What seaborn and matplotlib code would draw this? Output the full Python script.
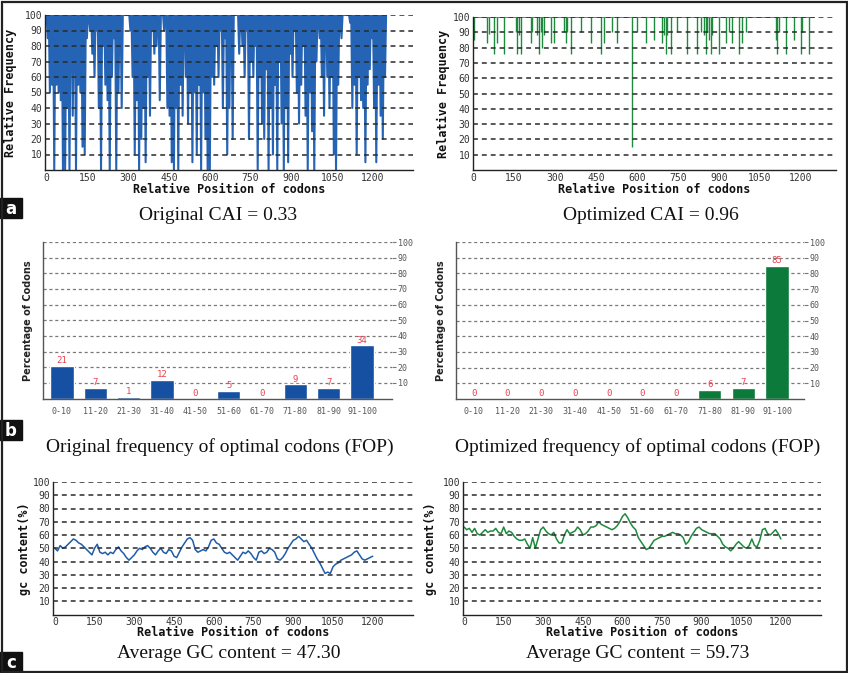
import numpy as np
import pandas as pd
import matplotlib
matplotlib.use("Agg")
import matplotlib.pyplot as plt
from matplotlib.patches import Rectangle
import seaborn as sns

# ---------------- data ----------------
# relative adaptiveness of original gene, one value every 4 codons (codon 0..1248)
orig_cai = [
    100, 85, 100, 50, 100, 55, 100, 0, 100, 55,
    100, 50, 100, 45, 100, 0, 100, 0, 100, 40,
    100, 0, 100, 100, 35, 100, 100, 0, 100, 55,
    100, 50, 100, 15, 100, 10, 100, 85, 100, 100,
    90, 100, 75, 100, 60, 100, 90, 100, 40, 100,
    0, 100, 80, 100, 55, 100, 45, 100, 0, 100,
    60, 100, 85, 100, 0, 100, 50, 100, 100, 40,
    100, 100, 100, 100, 100, 100, 100, 90, 100, 60,
    100, 10, 100, 45, 100, 0, 100, 20, 100, 40,
    100, 5, 100, 60, 100, 35, 100, 90, 100, 75,
    100, 80, 100, 100, 45, 100, 100, 100, 90, 100,
    100, 40, 100, 35, 100, 5, 100, 0, 100, 40,
    100, 0, 100, 55, 100, 35, 100, 100, 60, 100,
    30, 100, 50, 100, 5, 100, 50, 100, 10, 100,
    55, 100, 0, 100, 50, 100, 20, 100, 0, 100,
    0, 100, 60, 100, 55, 100, 80, 100, 60, 100,
    90, 100, 40, 100, 85, 100, 10, 100, 40, 100,
    100, 20, 100, 100, 100, 100, 100, 75, 100, 100,
    80, 100, 60, 100, 90, 100, 20, 100, 70, 100,
    60, 100, 80, 100, 0, 100, 60, 100, 30, 100,
    20, 100, 65, 100, 0, 100, 40, 100, 10, 100,
    55, 100, 0, 100, 70, 100, 30, 100, 0, 100,
    40, 100, 5, 100, 75, 100, 60, 100, 90, 100,
    50, 100, 30, 100, 55, 100, 80, 100, 35, 100,
    0, 100, 50, 100, 25, 100, 0, 100, 70, 100,
    100, 85, 100, 60, 100, 35, 100, 100, 60, 100,
    40, 100, 60, 100, 10, 100, 0, 100, 55, 100,
    100, 85, 100, 100, 100, 100, 100, 100, 100, 95,
    100, 40, 100, 55, 100, 10, 100, 60, 100, 45,
    100, 40, 100, 5, 100, 55, 100, 65, 100, 85,
    100, 40, 100, 5, 100, 55, 100, 35, 100, 20,
    100, 60, 100,
]
orig_pos = np.arange(len(orig_cai)) * 4

# optimized gene: values are 100 except at these codons
opt_len = 1250
opt_dip_pos = [4, 52, 59, 77, 89, 113, 156, 162, 168, 174, 211, 217, 235, 241, 248,
               254, 260, 284, 296, 333, 339, 345, 357, 394, 430, 467, 479, 510, 528,
               583, 601, 632, 662, 693, 699, 705, 711, 723, 748, 784, 821, 833, 845,
               851, 857, 863, 870, 876, 900, 924, 937, 949, 973, 985, 998, 1107, 1113,
               1119, 1144, 1174, 1199, 1205, 1229]
opt_dip_val = [85, 83, 89, 76, 83, 76, 90, 76, 88, 76, 83, 90, 88, 76, 90,
               80, 88, 83, 83, 90, 83, 90, 76, 90, 83, 76, 83, 90, 83,
               15, 90, 83, 85, 83, 88, 76, 88, 76, 90, 76, 76, 90, 88,
               76, 90, 85, 76, 88, 76, 83, 90, 83, 76, 83, 90, 85, 76,
               90, 76, 85, 76, 90, 76]

fop_bins = ["0-10", "11-20", "21-30", "31-40", "41-50",
            "51-60", "61-70", "71-80", "81-90", "91-100"]
fop_orig = [21, 7, 1, 12, 0, 5, 0, 9, 7, 34]
fop_opt = [0, 0, 0, 0, 0, 0, 0, 6, 7, 85]

# GC content along the sequence, one value every 10 codons (0..1200)
gc_orig = [
    50, 48, 52, 50, 51, 53, 55, 57, 56, 54,
    53, 51, 49, 47, 45, 50, 53, 47, 46, 47,
    45, 47, 46, 49, 51, 48, 46, 43, 41, 43,
    45, 48, 50, 49, 51, 52, 50, 47, 45, 48,
    50, 47, 46, 49, 48, 44, 43, 47, 51, 54,
    57, 58, 56, 49, 47, 48, 49, 48, 51, 56,
    57, 54, 53, 50, 47, 46, 47, 45, 43, 41,
    44, 47, 46, 48, 46, 43, 41, 47, 48, 46,
    47, 50, 49, 47, 42, 41, 43, 46, 50, 53,
    56, 57, 59, 57, 55, 56, 53, 50, 46, 42,
    39, 35, 31, 32, 31, 36, 38, 39, 41, 42,
    43, 44, 45, 47, 48, 45, 42, 41, 42, 43,
    44,
]
gc_opt = [
    66, 64, 65, 62, 65, 61, 60, 62, 64, 62,
    63, 63, 65, 62, 61, 66, 61, 63, 62, 59,
    57, 56, 56, 57, 53, 50, 58, 50, 57, 64,
    66, 63, 61, 60, 62, 57, 54, 54, 60, 64,
    61, 62, 63, 66, 64, 60, 61, 63, 66, 66,
    67, 70, 68, 67, 66, 65, 64, 65, 67, 70,
    74, 76, 73, 69, 66, 64, 58, 55, 52, 49,
    50, 53, 56, 57, 58, 59, 59, 60, 61, 62,
    61, 61, 60, 58, 53, 55, 59, 62, 65, 66,
    64, 63, 62, 61, 61, 61, 59, 57, 53, 51,
    50, 48, 50, 53, 55, 53, 51, 50, 52, 57,
    52, 51, 56, 64, 65, 61, 60, 62, 64, 61,
    57,
]
gc_pos = np.arange(len(gc_orig)) * 10

BLUE = "#1f5cab"
CAI_BLUE = "#2563b4"
GREEN = "#1e8a3c"
BAR_BLUE = "#1650a2"
BAR_GREEN = "#0c7a3a"

sns.set_style("white")
plt.rcParams["font.family"] = ["DejaVu Sans"]

W, H = 848, 673
fig = plt.figure(figsize=(W / 100, H / 100), dpi=100)


def px_axes(l, t, r, b):
    return fig.add_axes([l / W, 1 - b / H, (r - l) / W, (b - t) / H])


MONO = "DejaVu Sans Mono"


def style_profile(ax, xlim, ylabel, ylab_x):
    ax.set_xlim(*xlim)
    ax.set_ylim(0, 100)
    ax.set_yticks(range(10, 101, 10))
    ax.set_xticks(range(0, 1201, 150))
    ax.set_axisbelow(False)
    ax.yaxis.grid(True, linestyle=(0, (3.2, 2.6)), color="#2a2a2a", lw=1.1)
    ax.xaxis.grid(False)
    sns.despine(ax=ax)
    for s in ["left", "bottom"]:
        ax.spines[s].set_color("#222")
        ax.spines[s].set_linewidth(1.0)
    ax.tick_params(length=0, labelsize=7, colors="#333", pad=2)
    for t in ax.get_xticklabels() + ax.get_yticklabels():
        t.set_fontfamily(MONO)
    ax.set_xlabel("Relative Position of codons", fontfamily=MONO,
                  fontweight="bold", fontsize=8.5, color="#111")
    ax.xaxis.set_label_coords(0.5, -0.085)
    ax.set_ylabel(ylabel, fontfamily=MONO, fontweight="bold",
                  fontsize=8.5, color="#111")
    ax.yaxis.set_label_coords(ylab_x, 0.5)


def style_fop(ax, xlim, ylab_x):
    ax.set_xlim(*xlim)
    ax.set_ylim(0, 100)
    ax.set_yticks(range(10, 101, 10))
    ax.set_axisbelow(True)
    ax.yaxis.grid(True, linestyle=(0, (2.5, 2.2)), color="#7a7a7a", lw=0.9)
    ax.xaxis.grid(False)
    ax.yaxis.tick_right()
    ax.yaxis.set_label_position("left")
    for s in ["top", "right"]:
        ax.spines[s].set_visible(False)
    for s in ["left", "bottom"]:
        ax.spines[s].set_color("#555")
        ax.spines[s].set_linewidth(1.0)
    ax.tick_params(axis="y", length=3, color="#777", labelsize=6,
                   labelcolor="#555", pad=1)
    ax.tick_params(axis="x", length=0, labelsize=6, labelcolor="#555", pad=6)
    for t in ax.get_xticklabels() + ax.get_yticklabels():
        t.set_fontfamily(MONO)
    ax.set_xlabel("")
    ax.set_ylabel("Percentage of Codons", fontsize=7, fontweight="bold",
                  family=["Liberation Sans Narrow", "DejaVu Sans"], color="#222")
    ax.yaxis.set_label_coords(ylab_x, 0.5)


# ---- a: CAI profiles ----
ax1 = px_axes(45, 15, 413, 170)
sns.lineplot(x=orig_pos, y=orig_cai, ax=ax1, color=CAI_BLUE, lw=1.5)
style_profile(ax1, (-6, 1347), "Relative Frequency", -0.076)

ax2 = px_axes(473, 17, 836, 170)
ax2.hlines(100, 0, opt_len, color=GREEN, lw=1.2)
ax2.vlines(opt_dip_pos, opt_dip_val, 100, color=GREEN, lw=1.0)
style_profile(ax2, (0, 1328), "Relative Frequency", -0.063)

# ---- b: FOP histograms ----
ax3 = px_axes(43, 242, 392, 398.5)
sns.barplot(x=fop_bins, y=fop_orig, ax=ax3, color=BAR_BLUE, width=0.7,
            saturation=1)
ax3.bar_label(ax3.containers[0], labels=[str(v) for v in fop_orig],
              color="#e8424f", fontsize=6.5, fontfamily=MONO, padding=0.5)
style_fop(ax3, (-0.57, 9.9), -0.03)

ax4 = px_axes(456, 242, 804, 399)
sns.barplot(x=fop_bins, y=fop_opt, ax=ax4, color=BAR_GREEN, width=0.7,
            saturation=1)
ax4.bar_label(ax4.containers[0], labels=[str(v) for v in fop_opt],
              color="#e8424f", fontsize=6.5, fontfamily=MONO, padding=0.5)
style_fop(ax4, (-0.53, 9.8), -0.028)

# ---- c: GC content ----
ax5 = px_axes(53, 482, 413, 614.5)
sns.lineplot(x=gc_pos, y=gc_orig, ax=ax5, color=BLUE, lw=1.1)
style_profile(ax5, (-7, 1352), "gc content(%)", -0.061)
ax5.xaxis.set_label_coords(0.5, -0.088)

ax6 = px_axes(463, 482, 821, 614.5)
sns.lineplot(x=gc_pos, y=gc_opt, ax=ax6, color=GREEN, lw=1.1)
style_profile(ax6, (-4, 1352), "gc content(%)", -0.073)
ax6.xaxis.set_label_coords(0.5, -0.088)

# ---- captions ----
SERIF = "Liberation Serif"
captions = [
    (218, 215, "Original CAI = 0.33"),
    (651, 215, "Optimized CAI = 0.96"),
    (220, 447, "Original frequency of optimal codons (FOP)"),
    (638, 447, "Optimized frequency of optimal codons (FOP)"),
    (229, 653, "Average GC content = 47.30"),
    (638, 653, "Average GC content = 59.73"),
]
for x, y, s in captions:
    fig.text(x / W, 1 - y / H, s, ha="center", va="center",
             fontfamily=SERIF, fontsize=14, color="#111")

# ---- panel letters ----
for y0, letter in [(198, "a"), (420, "b"), (652, "c")]:
    fig.patches.append(Rectangle((0, 1 - (y0 + 20) / H), 22 / W, 20 / H,
                                 transform=fig.transFigure, color="#111"))
    fig.text(11 / W, 1 - (y0 + 10.5) / H, letter, ha="center", va="center",
             color="white", fontsize=12, fontweight="bold")

# outer frame
fig.patches.append(Rectangle((1.5 / W, 1.5 / H), (W - 3) / W, (H - 3) / H,
                             transform=fig.transFigure, fill=False,
                             edgecolor="#222", lw=1.6))

fig.savefig("out.png", dpi=100)
